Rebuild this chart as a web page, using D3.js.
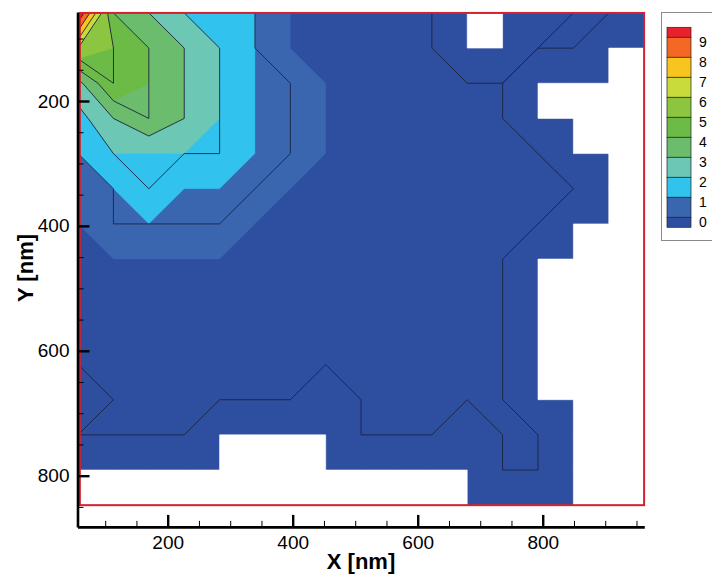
<!DOCTYPE html>
<html>
<head>
<meta charset="utf-8">
<script src="https://cdn.jsdelivr.net/npm/d3@7"></script>
<style>
  body { margin: 0; background: #fff; }
  text { font-family: "Liberation Sans", Arial, Helvetica, sans-serif; }
</style>
</head>
<body>
<svg id="chart" width="712" height="575"></svg>
<script>
// Structured grid node positions (nm)
const xNodes = [56.6, 113.2, 169.8, 226.4, 283.0, 339.6, 396.2, 452.8, 509.4,
                566.0, 622.6, 679.2, 735.8, 792.4, 849.0, 905.6, 962.2];
const yNodes = [59.0, 115.3, 171.6, 227.9, 284.2, 340.5, 396.8, 453.1, 509.4,
                565.7, 622.0, 678.3, 734.6, 790.9, 847.2];

// Nodal field values, one row per y node (top to bottom)
const field = [
  [10, 4, 3, 2, 1.5, 1, 0, 0, 0, 0, 0, -1, -1, -1, 0, 0, -1],
  [ 6, 5, 4, 3, 2, 1, 0, 0, 0, 0, 0, -1, -1, 0, 0, -1, -1],
  [2.7,5, 4, 3, 2, 1, 1, 0, 0, 0, 0, 0, 0, -1, -1, -1, -1],
  [1.6,3, 4, 3, 2, 1, 1, 0, 0, 0, 0, 0, 0, -1, -1, -1, -1],
  [ 1, 2, 2, 2, 2, 1, 1, 0, 0, 0, 0, 0, 0, 0, -1, -1, -1],
  [ 0, 1, 2, 1, 1, 1, 0, 0, 0, 0, 0, 0, 0, 0, 0, -1, -1],
  [ 0, 1, 1, 1, 1, 0, 0, 0, 0, 0, 0, 0, 0, 0, -1, -1, -1],
  [ 0, 0, 0, 0, 0, 0, 0, 0, 0, 0, 0, 0, 0, -1, -1, -1, -1],
  [ 0, 0, 0, 0, 0, 0, 0, 0, 0, 0, 0, 0, 0, -1, -1, -1, -1],
  [ 0, 0, 0, 0, 0, 0, 0, 0, 0, 0, 0, 0, 0, -1, -1, -1, -1],
  [ 0, 0, 0, 0, 0, 0, 0, 0, 0, 0, 0, 0, 0, -1, -1, -1, -1],
  [-1, 0, 0, 0, 0, 0, 0, -1, 0, 0, 0, 0, 0, -1, -1, -1, -1],
  [ 0, 0, 0, 0, -1, -1, -1, -1, 0, 0, 0, -1, 0, 0, -1, -1, -1],
  [-1, -1, -1, -1, -1, -1, -1, -1, -1, -1, -1, -1, 0, 0, -1, -1, -1],
  [-1, -1, -1, -1, -1, -1, -1, -1, -1, -1, -1, -1, -1, -1, -1, -1, -1]
];

// Blanked cells [column, row] (cell spans nodes i..i+1, j..j+1)
const blankCells = [
  [11, 0],
  [15, 1], [15, 2], [15, 3], [15, 4], [15, 5], [15, 6], [15, 7], [15, 8], [15, 9],
  [15, 10], [15, 11], [15, 12], [15, 13],
  [13, 2], [14, 2], [14, 3], [14, 6],
  [13, 7], [13, 8], [13, 9], [13, 10],
  [14, 7], [14, 8], [14, 9], [14, 10], [14, 11], [14, 12], [14, 13],
  [0, 13], [1, 13], [2, 13], [3, 13],
  [4, 12], [5, 12], [6, 12], [4, 13], [5, 13], [6, 13],
  [7, 13], [8, 13], [9, 13], [10, 13]
];

// Contour levels and flood colours (first colour is below the lowest level)
const levels = [0, 1, 2, 3, 4, 5, 6, 7, 8, 9];
const bandColors = ["#2e4ea0", "#3a66b0", "#31c2ee", "#6dc7b5", "#6bbc6d",
                    "#6cbb46", "#8cc640", "#c9db3b", "#f8c41e", "#f26824", "#e9212a"];

const xTicksMajor = [200, 400, 600, 800];
const yTicksMajor = [200, 400, 600, 800];
const xTicksMinor = d3.range(100, 951, 50).filter(v => v % 200 !== 0);
const yTicksMinor = d3.range(100, 851, 50).filter(v => v % 200 !== 0);

const svg = d3.select("#chart");

const x = d3.scaleLinear().domain([55.7, 962.5]).range([77.5, 644.3]);
const y = d3.scaleLinear().domain([57.5, 882]).range([12.0, 526.9]);

const nx = xNodes.length, ny = yNodes.length;
const flat = field.flat();
const negFlat = flat.map(v => -v);
const dxNode = (xNodes[nx - 1] - xNodes[0]) / (nx - 1);
const dyNode = (yNodes[ny - 1] - yNodes[0]) / (ny - 1);

// contour space: sample i sits at i + 0.5
const toNmX = c => xNodes[0] + (c - 0.5) * dxNode;
const toNmY = c => yNodes[0] + (c - 0.5) * dyNode;

const path = d3.geoPath(d3.geoTransform({
  point: function(px, py) { this.stream.point(x(toNmX(px)), y(toNmY(py))); }
}));

const contourGen = d3.contours().size([nx, ny]).smooth(false);

// linear interpolation of the crossing points between neighbouring samples
function interpolate(geom, values, t) {
  geom.coordinates.forEach(poly => poly.forEach(ring => ring.forEach(p => {
    const cx = p[0], cy = p[1];
    const xi = Math.floor(cx), yi = Math.floor(cy);
    if (cx === xi && cx > 0 && cx < nx) {
      const v0 = values[yi * nx + xi - 1], v1 = values[yi * nx + xi];
      const d = (t - v0) / (v1 - v0);
      if (isFinite(d)) p[0] = xi - 0.5 + d;
    }
    if (cy === yi && cy > 0 && cy < ny) {
      const v0 = values[(yi - 1) * nx + xi], v1 = values[yi * nx + xi];
      const d = (t - v0) / (v1 - v0);
      if (isFinite(d)) p[1] = yi - 0.5 + d;
    }
  })));
  return geom;
}

const gx0 = x(xNodes[0]), gx1 = x(xNodes[nx - 1]);
const gy0 = y(yNodes[0]), gy1 = y(yNodes[ny - 1]);

svg.append("clipPath").attr("id", "grid-clip")
  .append("rect").attr("x", gx0).attr("y", gy0)
  .attr("width", gx1 - gx0).attr("height", gy1 - gy0);

const plot = svg.append("g").attr("clip-path", "url(#grid-clip)");

// flood: base colour then each band above its level
plot.append("rect").attr("x", gx0).attr("y", gy0)
  .attr("width", gx1 - gx0).attr("height", gy1 - gy0)
  .attr("fill", bandColors[0]);

levels.forEach((lv, k) => {
  const t = lv + 0.001;
  const geom = interpolate(contourGen.contour(flat, t), flat, t);
  plot.append("path").attr("d", path(geom))
    .attr("fill", bandColors[k + 1]).attr("fill-rule", "evenodd")
    .attr("stroke", bandColors[k + 1]).attr("stroke-width", 0.4);
});

// contour lines: outline of the region lying below each level
levels.forEach(lv => {
  const t = -lv + 0.001;
  const geom = interpolate(contourGen.contour(negFlat, t), negFlat, t);
  plot.append("path").attr("d", path(geom))
    .attr("fill", "none").attr("stroke", "#1b2440")
    .attr("stroke-width", 0.9).attr("stroke-linejoin", "round");
});

// blanked cells, as one path so neighbouring cells join seamlessly
const blankPath = d3.path();
blankCells.forEach(([i, j]) => {
  const bx0 = x(xNodes[i]), bx1 = x(xNodes[i + 1]);
  const by0 = y(yNodes[j]), by1 = y(yNodes[j + 1]);
  blankPath.rect(bx0, by0, bx1 - bx0, by1 - by0);
});
plot.append("path").attr("d", blankPath.toString())
  .attr("fill", "#fff").attr("stroke", "#fff").attr("stroke-width", 0.6);

// zone boundary
svg.append("rect")
  .attr("x", gx0 + 1.8).attr("y", gy0)
  .attr("width", gx1 - gx0 - 1.8).attr("height", gy1 - gy0)
  .attr("fill", "none").attr("stroke", "#d3222d").attr("stroke-width", 2);

// axes
const xAxisY = y(882);
const yAxisX = x(55.7);

const xAxisMajor = d3.axisBottom(x).tickValues(xTicksMajor).tickSize(-12)
  .tickSizeOuter(0).tickPadding(9).tickFormat(d3.format("d"));
const xAxisMinor = d3.axisBottom(x).tickValues(xTicksMinor).tickSize(-6)
  .tickSizeOuter(0).tickFormat("");
const yAxisMajor = d3.axisLeft(y).tickValues(yTicksMajor).tickSize(-12)
  .tickSizeOuter(0).tickPadding(8).tickFormat(d3.format("d"));
const yAxisMinor = d3.axisLeft(y).tickValues(yTicksMinor).tickSize(-6)
  .tickSizeOuter(0).tickFormat("");

function styleAxis(g) {
  g.select(".domain").attr("stroke", "#000").attr("stroke-width", 2.6);
  g.selectAll(".tick line").attr("stroke", "#000").attr("stroke-width", 2.4);
  g.selectAll(".tick text").attr("fill", "#000")
    .style("font-family", '"Liberation Sans", Arial, sans-serif')
    .style("font-size", "19px");
}

const gxm = svg.append("g").attr("transform", `translate(0,${xAxisY})`).call(xAxisMinor);
gxm.select(".domain").remove();
gxm.selectAll(".tick line").attr("stroke", "#000").attr("stroke-width", 1);
const gx = svg.append("g").attr("transform", `translate(0,${xAxisY})`).call(xAxisMajor);
styleAxis(gx);

const gym = svg.append("g").attr("transform", `translate(${yAxisX},0)`).call(yAxisMinor);
gym.select(".domain").remove();
gym.selectAll(".tick line").attr("stroke", "#000").attr("stroke-width", 1);
const gy = svg.append("g").attr("transform", `translate(${yAxisX},0)`).call(yAxisMajor);
styleAxis(gy);

// axis titles
svg.append("text").attr("x", 361).attr("y", 569)
  .attr("text-anchor", "middle").attr("font-weight", "bold")
  .attr("font-size", 22).text("X [nm]");
svg.append("text").attr("transform", "translate(33,268) rotate(-90)")
  .attr("text-anchor", "middle").attr("font-weight", "bold")
  .attr("font-size", 22).text("Y [nm]");

// legend
const legend = svg.append("g");
legend.append("rect").attr("x", 661.5).attr("y", 12.5)
  .attr("width", 70).attr("height", 228)
  .attr("fill", "#fff").attr("stroke", "#8a8a8a").attr("stroke-width", 1);

const lx = 667, lw = 24, step = 20, topBoundary = 37.3;
const legendBands = bandColors.slice().reverse(); // top: above highest level
legendBands.forEach((c, i) => {
  let y0, h;
  if (i === 0) { y0 = topBoundary - 10; h = 10; }
  else if (i === legendBands.length - 1) { y0 = topBoundary + (i - 1) * step; h = 10; }
  else { y0 = topBoundary + (i - 1) * step; h = step; }
  legend.append("rect").attr("x", lx).attr("y", y0).attr("width", lw).attr("height", h)
    .attr("fill", c).attr("stroke", "#222").attr("stroke-width", 0.7);
});
levels.slice().reverse().forEach((lv, i) => {
  legend.append("text").attr("x", 699).attr("y", topBoundary + i * step + 9.5)
    .attr("font-size", 14).attr("fill", "#000").text(lv);
});
</script>
</body>
</html>
